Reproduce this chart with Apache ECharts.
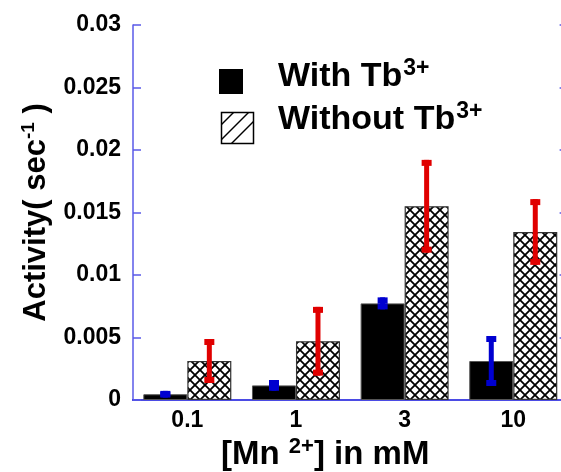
<!DOCTYPE html>
<html>
<head>
<meta charset="utf-8">
<script src="https://cdn.jsdelivr.net/npm/echarts@6/dist/echarts.min.js"></script>
<style>
  html, body { margin: 0; padding: 0; background: #fff; }
  #chart { width: 561px; height: 472px; }
</style>
</head>
<body>
<div id="chart"></div>
<script>
// Mn2+ concentrations (mM)
const categories = ['0.1', '1', '3', '10'];
// Activity (sec^-1) with and without Tb3+
const withTb = [0.00046, 0.00117, 0.00773, 0.00312];
const withoutTb = [0.00312, 0.0047, 0.0155, 0.01344];
// standard deviations
const withTbErr = [0.00027, 0.00043, 0.00048, 0.0020];
const withoutTbErr = [0.00176, 0.00275, 0.00371, 0.00263];
// y tick labels
const yTickLabels = ['0', '0.005', '0.01', '0.015', '0.02', '0.025', '0.03'];

const FONT = '"Liberation Sans", Arial, Helvetica, sans-serif';
const BAR_FRACTION = 0.405;

// cross-hatch tile for the bars without Tb
function makeCrossHatch(size) {
  const c = document.createElement('canvas');
  c.width = size; c.height = size;
  const ctx = c.getContext('2d');
  ctx.fillStyle = '#fff';
  ctx.fillRect(0, 0, size, size);
  ctx.strokeStyle = '#000';
  ctx.lineWidth = 1.8;
  for (const s of [-size, 0, size]) {
    ctx.beginPath();
    ctx.moveTo(s - 1, -1); ctx.lineTo(s + size + 1, size + 1);
    ctx.moveTo(s + size + 1, -1); ctx.lineTo(s - 1, size + 1);
    ctx.stroke();
  }
  return c;
}
const hatch = { image: makeCrossHatch(10), repeat: 'repeat' };

function errorBarSeries(values, errs, color, side) {
  return {
    type: 'custom',
    z: 5,
    data: values.map((v, i) => [i, v, errs[i]]),
    renderItem(params, api) {
      const i = api.value(0), v = api.value(1), e = api.value(2);
      const band = api.size([1, 0])[0];
      const cx = api.coord([i, v])[0] + side * band * BAR_FRACTION / 2;
      const yTop = api.coord([i, v + e])[1];
      const yBot = api.coord([i, v - e])[1];
      const style = { fill: color };
      return {
        type: 'group',
        children: [
          { type: 'rect', shape: { x: cx - 2.5, y: yTop, width: 5, height: yBot - yTop }, style },
          { type: 'rect', shape: { x: cx - 5, y: yTop, width: 10, height: 6 }, style },
          { type: 'rect', shape: { x: cx - 5, y: yBot - 6, width: 10, height: 6 }, style }
        ]
      };
    }
  };
}

const chart = echarts.init(document.getElementById('chart'), null, { renderer: 'canvas' });

const axisBlue = '#5a5ae8';
const textBase = { color: '#000', fontFamily: FONT, fontWeight: 'bold' };

chart.setOption({
  animation: false,
  backgroundColor: '#fff',
  // the plot box runs a few pixels past the right edge of the page
  grid: { left: 133, top: 25, width: 434.6, height: 375, containLabel: false, outerBoundsMode: 'none' },
  xAxis: [
    {
      type: 'category',
      data: categories,
      position: 'bottom',
      axisLine: { lineStyle: { color: '#2020d8', width: 2 } },
      axisTick: { inside: true, length: 8, lineStyle: { color: axisBlue, width: 1.5 } },
      axisLabel: Object.assign({ fontSize: 23, margin: 9 }, textBase),
      splitLine: { show: false }
    },
    {
      type: 'category',
      data: categories,
      position: 'top',
      axisLine: { lineStyle: { color: axisBlue, width: 1.5 } },
      axisTick: { inside: true, length: 7, lineStyle: { color: axisBlue, width: 1.5 } },
      axisLabel: { show: false }
    }
  ],
  yAxis: [
    {
      type: 'value',
      min: 0, max: 0.03, interval: 0.005,
      position: 'left',
      axisLine: { show: true, lineStyle: { color: axisBlue, width: 1.5 } },
      axisTick: { show: true, inside: true, length: 8, lineStyle: { color: axisBlue, width: 1.5 } },
      axisLabel: Object.assign({
        fontSize: 23, margin: 12,
        formatter: v => yTickLabels[Math.round(v / 0.005)]
      }, textBase),
      splitLine: { show: false },
      name: '{t|Activity( sec}{s|-1}{t| )}',
      nameLocation: 'middle',
      nameRotate: 90,
      nameGap: 78,
      nameTextStyle: {
        rich: {
          t: Object.assign({ fontSize: 31, lineHeight: 34 }, textBase),
          s: Object.assign({ fontSize: 19, lineHeight: 34, padding: [0, 0, 14, 0] }, textBase)
        }
      }
    },
    {
      type: 'value',
      min: 0, max: 0.03, interval: 0.005,
      position: 'right',
      axisLine: { show: true, lineStyle: { color: axisBlue, width: 1.5 } },
      axisTick: { show: true, inside: true, length: 8, lineStyle: { color: axisBlue, width: 1.5 } },
      axisLabel: { show: false },
      splitLine: { show: false }
    }
  ],
  series: [
    {
      name: 'With Tb3+',
      type: 'bar',
      data: withTb,
      barWidth: (BAR_FRACTION * 100) + '%',
      barGap: '0%',
      itemStyle: { color: '#000', borderColor: '#555', borderWidth: 1 }
    },
    {
      name: 'Without Tb3+',
      type: 'bar',
      data: withoutTb,
      barWidth: (BAR_FRACTION * 100) + '%',
      barGap: '0%',
      itemStyle: { color: hatch, borderColor: '#333', borderWidth: 1.2 }
    },
    errorBarSeries(withTb, withTbErr, '#0000d0', -1),
    errorBarSeries(withoutTb, withoutTbErr, '#e00000', 1)
  ],
  graphic: [
    // legend: solid square
    { type: 'rect', left: 219, top: 69, shape: { width: 24, height: 25 }, style: { fill: '#000' } },
    // legend: single-hatched box
    {
      type: 'group', left: 219, top: 110,
      children: [
        { type: 'rect', shape: { x: 0, y: 0, width: 32, height: 31 }, style: { fill: '#fff', stroke: '#000', lineWidth: 1.5 } },
        { type: 'line', shape: { x1: 0, y1: 12, x2: 12, y2: 0 }, style: { stroke: '#000', lineWidth: 1.5 } },
        { type: 'line', shape: { x1: 0, y1: 27, x2: 27, y2: 0 }, style: { stroke: '#000', lineWidth: 1.5 } },
        { type: 'line', shape: { x1: 10, y1: 31, x2: 32, y2: 9 }, style: { stroke: '#000', lineWidth: 1.5 } }
      ]
    },
    {
      type: 'text', left: 278, top: 57,
      style: {
        text: '{t|With Tb}{s|3+}',
        rich: {
          t: Object.assign({ fontSize: 34, lineHeight: 38 }, textBase),
          s: Object.assign({ fontSize: 23, lineHeight: 38, padding: [0, 0, 16, 1] }, textBase)
        }
      }
    },
    {
      type: 'text', left: 278, top: 100,
      style: {
        text: '{t|Without Tb}{s|3+}',
        rich: {
          t: Object.assign({ fontSize: 34, lineHeight: 38 }, textBase),
          s: Object.assign({ fontSize: 23, lineHeight: 38, padding: [0, 0, 16, 1] }, textBase)
        }
      }
    },
    // x axis title
    {
      type: 'text', left: 221, top: 436,
      style: {
        text: '{t|[Mn }{s|2+}{t|] in mM}',
        rich: {
          t: Object.assign({ fontSize: 33, lineHeight: 36 }, textBase),
          s: Object.assign({ fontSize: 22, lineHeight: 36, padding: [0, 0, 16, 0] }, textBase)
        }
      }
    }
  ]
});
</script>
</body>
</html>
